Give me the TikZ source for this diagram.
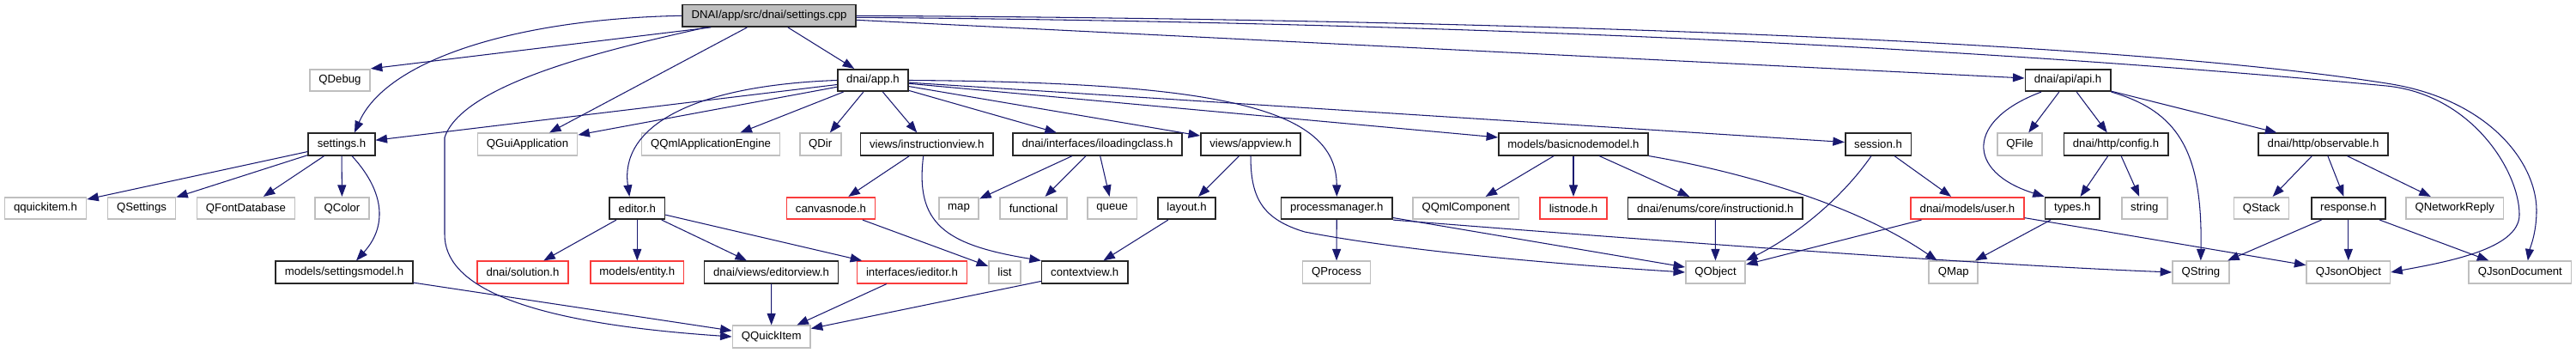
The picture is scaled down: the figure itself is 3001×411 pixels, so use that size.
\documentclass[tikz,border=0pt]{standalone}
\usepackage{fontspec}
\setmainfont{Liberation Sans}
\usetikzlibrary{arrows.meta}
\definecolor{edgeblue}{RGB}{25,25,112}
\definecolor{extgray}{RGB}{191,191,191}
\definecolor{truncred}{RGB}{250,60,60}
\begin{document}
\begin{tikzpicture}[x=0.02cm, y=-0.02cm,
    box/.style={rectangle, minimum height=0.51cm, inner xsep=0.21cm, inner ysep=0pt,
      font=\fontsize{7.5}{9}\selectfont, line width=0.95pt, fill=white},
    file/.style={box, draw=black!85},
    ext/.style={box, draw=extgray},
    trunc/.style={box, draw=truncred},
    root/.style={box, draw=black!85, fill=extgray},
    dep/.style={draw=edgeblue, line width=0.6pt, -{Triangle[length=0.27cm,width=0.2cm]}}]
  \useasboundingbox (0,0) rectangle (3001,411);
  % Root file
  \node[root] (cpp) at (896,18.3) {DNAI/app/src/dnai/settings.cpp};
  % Headers of the project
  \node[file] (app) at (1017,93.5) {dnai/app.h};
  \node[file] (api) at (2409,93.5) {dnai/api/api.h};
  \node[file] (settingsh) at (398,168) {settings.h};
  \node[file] (instrview) at (1079.7,168) {views/instructionview.h};
  \node[file] (iloading) at (1278.5,168) {dnai/interfaces/iloadingclass.h};
  \node[file] (appview) at (1457,168) {views/appview.h};
  \node[file] (basicmodel) at (1833,168) {models/basicnodemodel.h};
  \node[file] (session) at (2188,168) {session.h};
  \node[file] (config) at (2465,168) {dnai/http/config.h};
  \node[file] (observable) at (2706.5,168) {dnai/http/observable.h};
  \node[file] (editor) at (742.3,242.5) {editor.h};
  \node[file] (layout) at (1382.5,242.5) {layout.h};
  \node[file] (procmgr) at (1557.3,242.5) {processmanager.h};
  \node[file] (instrid) at (1998.3,242.5) {dnai/enums/core/instructionid.h};
  \node[file] (types) at (2414.3,242.5) {types.h};
  \node[file] (response) at (2735.8,242.5) {response.h};
  \node[file] (settingsmodel) at (401,317) {models/settingsmodel.h};
  \node[file] (editorview) at (898.5,317) {dnai/views/editorview.h};
  \node[file] (contextview) at (1263.7,317) {contextview.h};
  % Truncated headers
  \node[trunc] (canvasnode) at (968,242.5) {canvasnode.h};
  \node[trunc] (listnode) at (1833,242.5) {listnode.h};
  \node[trunc] (user) at (2292,242.5) {dnai/models/user.h};
  \node[trunc] (solution) at (609,317) {dnai/solution.h};
  \node[trunc] (entity) at (742.3,317) {models/entity.h};
  \node[trunc] (ieditor) at (1062.5,317) {interfaces/ieditor.h};
  % Qt and std headers
  \foreach \n/\x/\y/\t in {qdebug/396/93.5/QDebug, qguiapp/614.5/168/QGuiApplication,
      qqmlengine/828/168/QQmlApplicationEngine, qdir/955.7/168/QDir, qfile/2353/168/QFile,
      qquickitemh/53/242.5/qquickitem.h, qsettings/165/242.5/QSettings,
      qfontdb/286.5/242.5/QFontDatabase, qcolor/398.5/242.5/QColor, map/1117/242.5/map,
      functional/1204/242.5/functional, queue/1295.7/242.5/queue,
      qqmlcomp/1707.8/242.5/QQmlComponent, string/2498.3/242.5/string,
      qstack/2634.5/242.5/QStack, qnetreply/2859.7/242.5/QNetworkReply,
      list/1170.5/317/list, qprocess/1557/317/QProcess, qobject/1998.5/317/QObject,
      qmap/2275.7/317/QMap, qstring/2563.8/317/QString, qjsonobj/2735.8/317/QJsonObject,
      qjsondoc/2935.8/317/QJsonDocument, qquickitem/898.7/392/QQuickItem}
    \node[ext] (\n) at (\x,\y) {\t};
  % Straight includes
  \foreach \a/\b in {cpp/qguiapp, cpp/app, cpp/api,
      app/settingsh, app/qguiapp, app/qqmlengine, app/qdir, app/instrview, app/iloading,
      app/appview, app/basicmodel, app/session,
      settingsh/qquickitemh, settingsh/qsettings, settingsh/qfontdb, settingsh/qcolor,
      settingsmodel/qquickitem, editor/solution, editor/entity, editor/editorview,
      editor/ieditor, editorview/qquickitem, ieditor/qquickitem, instrview/canvasnode,
      canvasnode/list, iloading/map, iloading/functional, iloading/queue,
      appview/layout, layout/contextview, contextview/qquickitem,
      procmgr/qprocess, procmgr/qobject, basicmodel/qqmlcomp, basicmodel/listnode,
      basicmodel/instrid, instrid/qobject, session/user, user/qobject, user/qjsonobj,
      api/qfile, api/config, api/observable, config/types, config/string, types/qmap,
      observable/qstack, observable/response, observable/qnetreply,
      response/qstring, response/qjsonobj, response/qjsondoc}
    \draw[dep] (\a) -- (\b);
  % Curved includes
  \draw[dep] ([xshift=0.68cm]cpp.south west) -- (qdebug.north east);
  \draw[dep] (cpp.west) .. controls (600,22) and (450,70) .. ([xshift=0.3cm]settingsh.north);
  \draw[dep] ([xshift=0.57cm]cpp.south west) .. controls (720,55) and (540,95) .. (518,160)
    -- (518,273) .. controls (518,330) and (600,375) .. (qquickitem.west);
  \draw[dep] (cpp.east) .. controls (1700,22) and (2450,45) .. (2780,97)
    .. controls (2900,115) and (2955,190) .. (2955,245)
    .. controls (2955,272) and (2947,290) .. ([xshift=0.18cm]qjsondoc.north);
  \draw[dep] ([yshift=-0.04cm]cpp.east) .. controls (1700,26) and (2300,55) .. (2780,100)
    .. controls (2880,110) and (2935,200) .. (2935,250)
    .. controls (2935,290) and (2850,305) .. (qjsonobj.east);
  \draw[dep] (app.west) .. controls (800,100) and (722,150) .. ([xshift=-0.18cm]editor.north);
  \draw[dep] (app.east) .. controls (1420,96) and (1557,125) .. (procmgr.north);
  \draw[dep] ([xshift=0.24cm]settingsh.south) .. controls (450,225) and (450,265)
    .. ([xshift=0.28cm]settingsmodel.north);
  \draw[dep] ([xshift=-0.08cm]instrview.south) .. controls (1066,260) and (1100,285)
    .. (contextview.north west);
  \draw[dep] (appview.south) .. controls (1457,230) and (1470,255) .. (1520,270)
    .. controls (1650,295) and (1850,310) .. (qobject.west);
  \draw[dep] (procmgr.south east) .. controls (1900,278) and (2300,308) .. (qstring.west);
  \draw[dep] (basicmodel.south east) .. controls (2000,195) and (2150,230)
    .. ([xshift=-0.38cm]qmap.north);
  \draw[dep] ([xshift=-0.16cm]session.south) .. controls (2150,225) and (2100,270)
    .. (qobject.north east);
  \draw[dep] ([xshift=-0.62cm]api.south) .. controls (2290,140) and (2290,200) .. (types.north west);
  \draw[dep] (api.south east) .. controls (2540,130) and (2566,180) .. (qstring.north);
\end{tikzpicture}
\end{document}
